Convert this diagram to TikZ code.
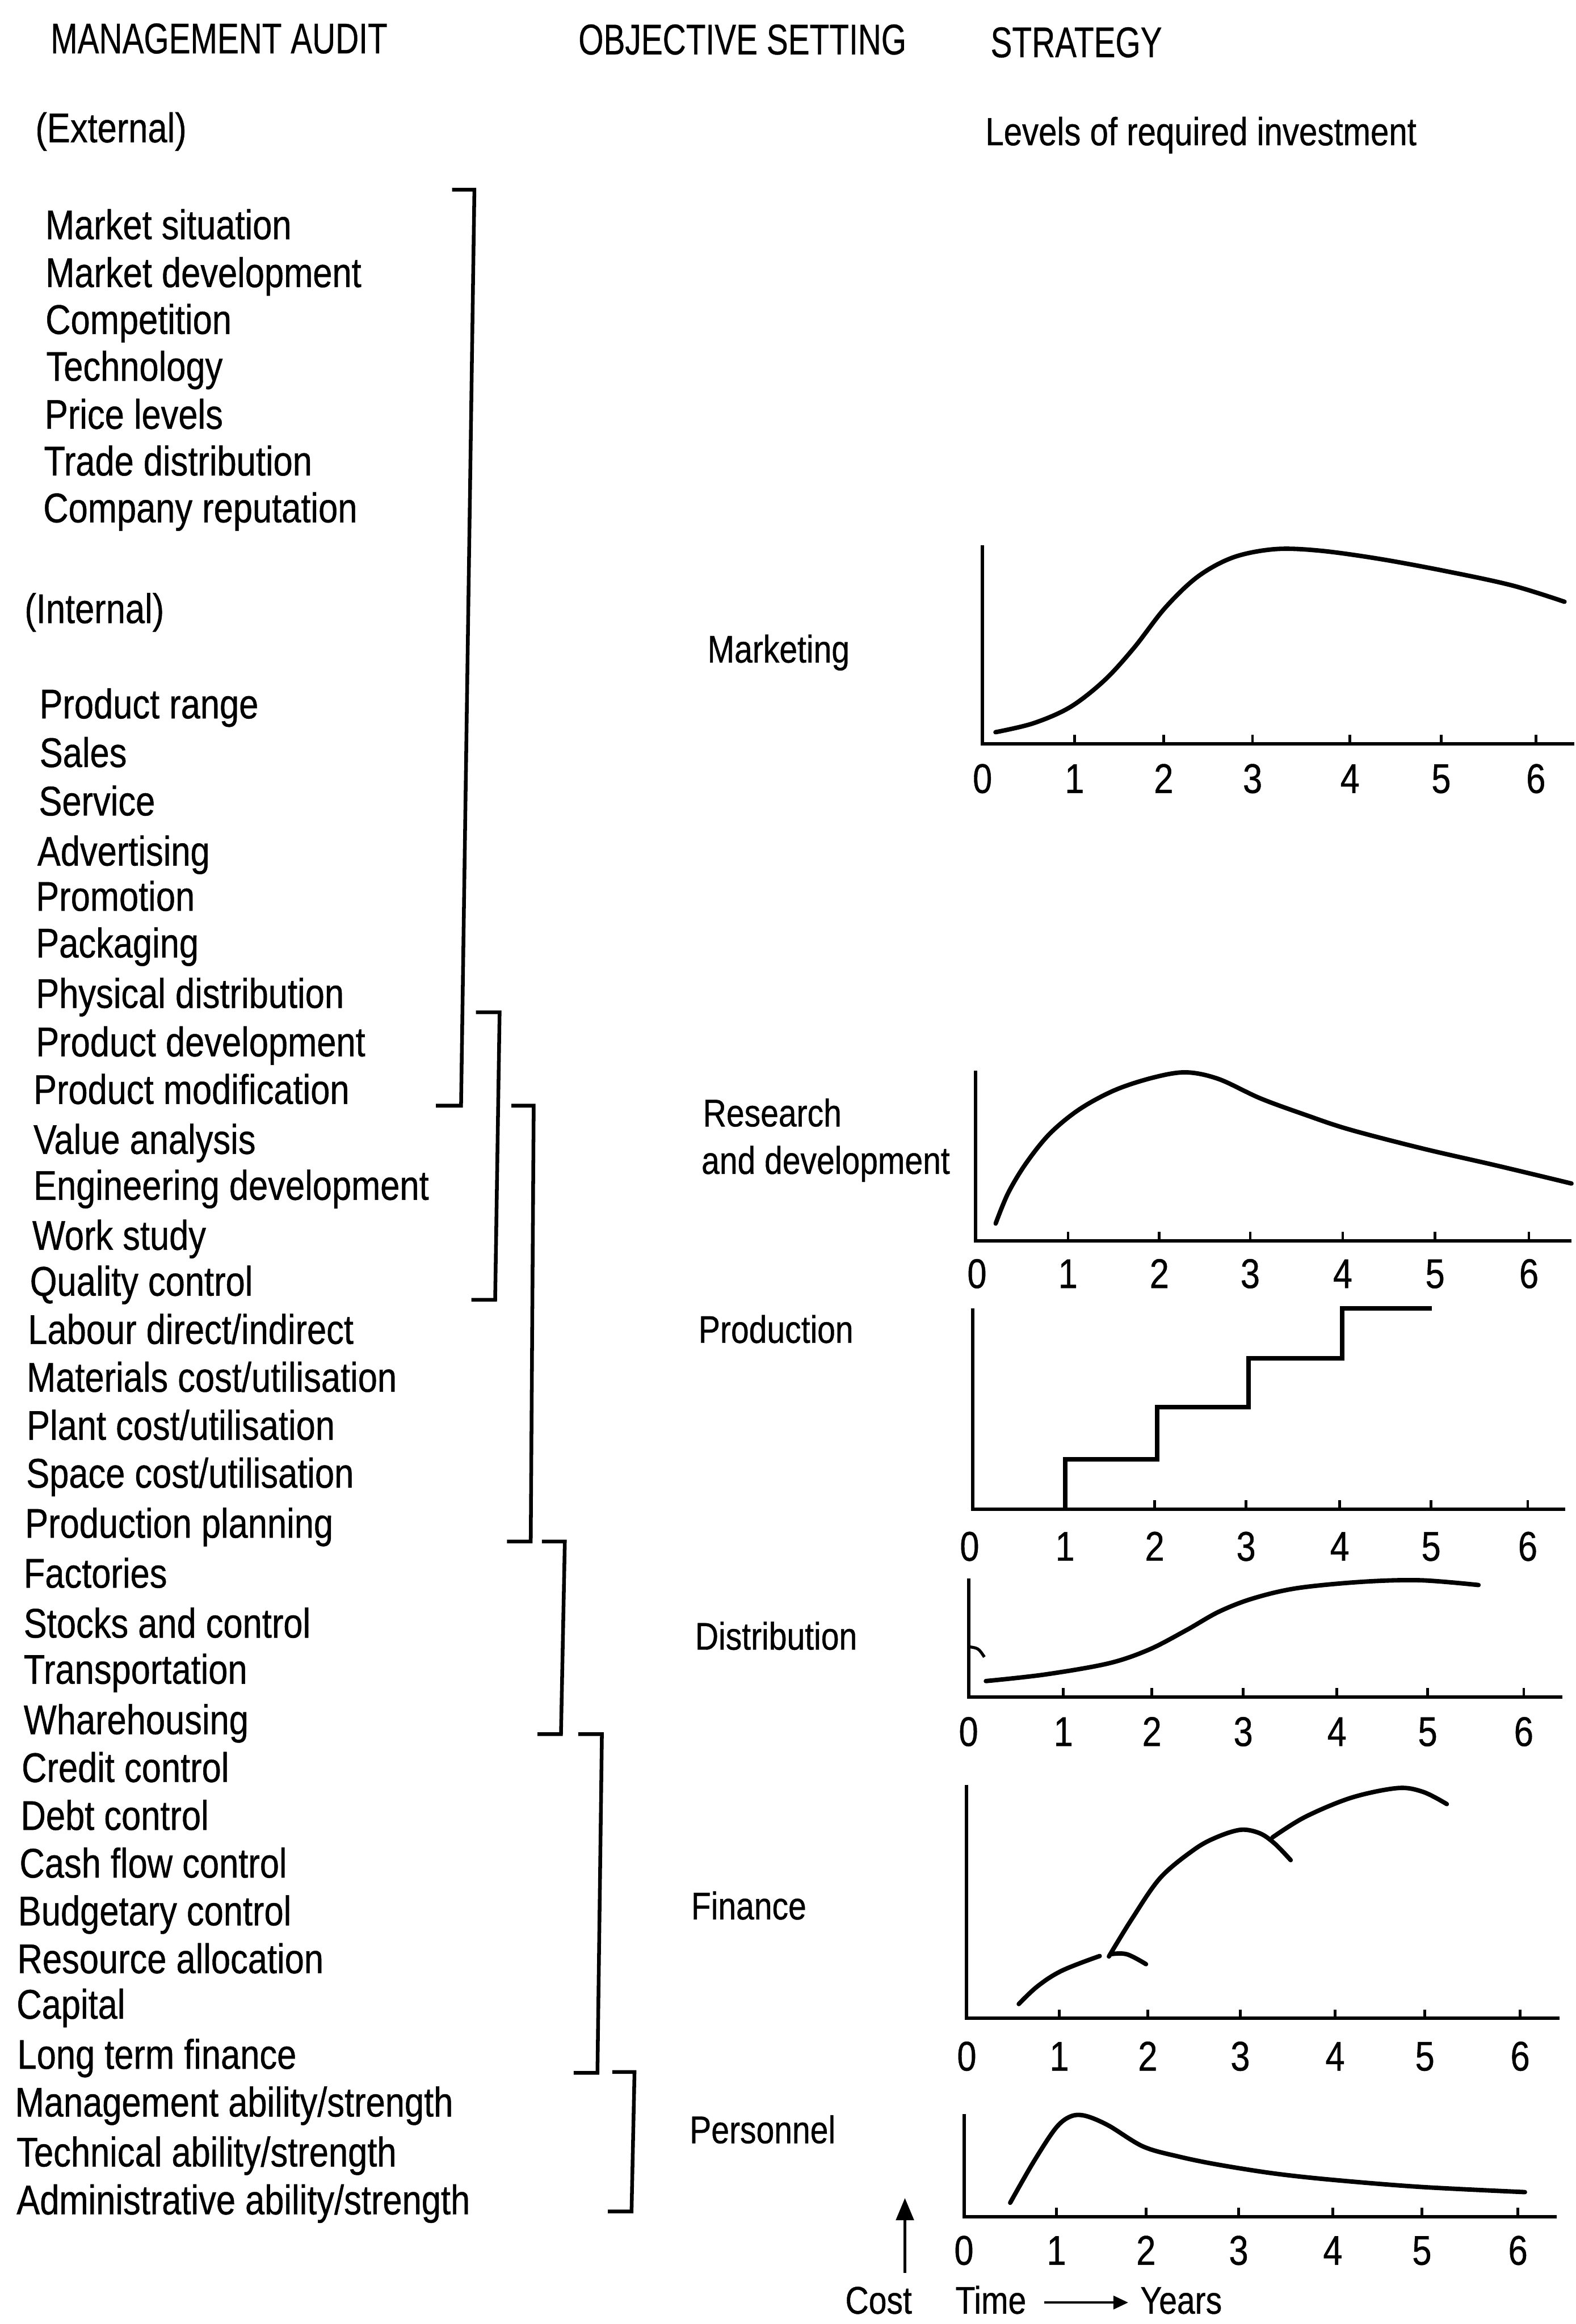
\documentclass[tikz,border=0pt]{standalone}
\usepackage{fontspec}
\usetikzlibrary{arrows.meta,calc}
\setmainfont{Liberation Sans}
\newfontfamily\condfont[FakeStretch=0.84,FakeBold=0.6]{Liberation Sans}
\newfontfamily\headcond[FakeStretch=0.75,FakeBold=0.4]{Liberation Sans}
\newcommand\itemfont{\condfont\fontsize{28}{30}\selectfont}
\newcommand\labfont{\condfont\fontsize{26}{28}\selectfont}
\newcommand\headfont{\headcond\fontsize{29}{31}\selectfont}
\begin{document}
\begin{tikzpicture}[x=1pt,y=-1pt,
  item/.style={anchor=base west, inner sep=0pt, font=\itemfont},
  lab/.style={anchor=base west, inner sep=0pt, font=\labfont},
  head/.style={anchor=base west, inner sep=0pt, font=\headfont},
  num/.style={anchor=base, inner sep=0pt, font=\itemfont},
  axisline/.style={line width=2.3pt, line join=miter},
  tickmark/.style={line width=1.8pt},
  curve/.style={line width=3pt, line cap=round, line join=round},
  bracket/.style={line width=2.5pt, line join=miter}]

\useasboundingbox (0,0) rectangle (1063,1568);
\fill[white] (0,0) rectangle (1063,1568);

% ---------- column headings ----------
\node[head] (hAudit) at (34,36) {MANAGEMENT AUDIT};
\node[head] (hObj) at (390,36.7) {OBJECTIVE SETTING};
\node[head] (hStrat) at (668,38.6) {STRATEGY};
\node[item] (hExt) at (23.7,96) {(External)};
\node[item, font=\condfont\fontsize{26.5}{28}\selectfont] (hLevels) at (664.5,98) {Levels of required investment};
\node[item] (hInt) at (16.4,420.4) {(Internal)};

% ---------- audit items ----------
\node[item] (a1) at (30.4,161.4) {Market situation};
\node[item] (a2) at (30.5,193.7) {Market development};
\node[item] (a3) at (30.5,225.3) {Competition};
\node[item] (a4) at (31,256.9) {Technology};
\node[item] (a5) at (30,289.3) {Price levels};
\node[item] (a6) at (29.5,320.8) {Trade distribution};
\node[item] (a7) at (29,352.4) {Company reputation};
\node[item] (a8) at (26.4,484.7) {Product range};
\node[item] (a9) at (26.5,517.5) {Sales};
\node[item] (a10) at (26,550.2) {Service};
\node[item] (a11) at (25,584) {Advertising};
\node[item] (a12) at (24,614.5) {Promotion};
\node[item] (a13) at (24,646) {Packaging};
\node[item] (a14) at (24,680) {Physical distribution};
\node[item] (a15) at (24,712.7) {Product development};
\node[item] (a16) at (22.4,744.8) {Product modification};
\node[item] (a17) at (22.4,778.5) {Value analysis};
\node[item] (a18) at (22.4,809.5) {Engineering development};
\node[item] (a19) at (21.6,843.2) {Work study};
\node[item] (a20) at (20,874.2) {Quality control};
\node[item] (a21) at (18.7,906.7) {Labour direct/indirect};
\node[item] (a22) at (17.8,939) {Materials cost/utilisation};
\node[item] (a23) at (17.8,971.4) {Plant cost/utilisation};
\node[item] (a24) at (17.5,1003.7) {Space cost/utilisation};
\node[item] (a25) at (16.7,1037.5) {Production planning};
\node[item] (a26) at (15.8,1071.2) {Factories};
\node[item] (a27) at (15.8,1104.9) {Stocks and control};
\node[item] (a28) at (15.8,1136) {Transportation};
\node[item] (a29) at (15.8,1170) {Wharehousing};
\node[item] (a30) at (14.4,1202.3) {Credit control};
\node[item] (a31) at (13.8,1234.6) {Debt control};
\node[item] (a32) at (13,1266.8) {Cash flow control};
\node[item] (a33) at (12,1299) {Budgetary control};
\node[item] (a34) at (11.5,1331.3) {Resource allocation};
\node[item] (a35) at (11,1362) {Capital};
\node[item] (a36) at (11.5,1395.8) {Long term finance};
\node[item] (a37) at (10,1428) {Management ability/strength};
\node[item] (a38) at (11,1461.7) {Technical ability/strength};
\node[item] (a39) at (11,1494) {Administrative ability/strength};

% ---------- grouping brackets ----------
\draw[bracket] (305,128) -- (320,128) -- (311,746) -- (294,746);
\draw[bracket] (321,683) -- (337,683) -- (334,877) -- (318,877);
\draw[bracket] (345,746) -- (360,746) -- (358,1040) -- (342,1040);
\draw[bracket] (365.5,1040) -- (381,1040) -- (378.4,1170) -- (362.6,1170);
\draw[bracket] (390,1170) -- (406,1170) -- (403,1398.5) -- (387,1398.5);
\draw[bracket] (413,1398) -- (428,1398) -- (426,1492) -- (410,1492);

% ---------- objectives ----------
\node[lab] (oMkt) at (477,447) {Marketing};
\node[lab] (oRes) at (474,760) {Research};
\node[lab] (oRes2) at (473,792) {and development};
\node[lab] (oProd) at (471,906) {Production};
\node[lab] (oDist) at (468.7,1113) {Distribution};
\node[lab] (oFin) at (466,1295) {Finance};
\node[lab] (oPers) at (465,1446) {Personnel};

% ---------- marketing ----------
\draw[axisline] (662.7,368) -- (662.7,501.7) -- (1062,501.7);
\foreach \t in {724.8,784.9,844.9,910.6,972.1,1036}
  \draw[tickmark] (\t,501.7) -- ++(0,-6);
\foreach \t [count=\i from 0] in {662.7,724.8,784.9,844.9,910.6,972.1,1036}
  \node[num] (mk\i) at (\t,535) {\i};
\draw[curve] plot[smooth, tension=0.55] coordinates {(671.5,494) (697,488)
  (722,477) (745,459) (765,437) (786,410) (808,389) (832,376) (860,370.5)
  (890,371.5) (930,377) (976,385.5) (1020,395) (1055.3,406)};

% ---------- research and development ----------
\draw[axisline] (658,722.5) -- (658,837.1) -- (1060,837.1);
\foreach \t in {720.4,782,843.3,905.7,968,1031.3}
  \draw[tickmark] (\t,837.1) -- ++(0,-6);
\foreach \t [count=\i from 0] in {659,720.4,782,843.3,905.7,968,1031.3}
  \node[num] (rd\i) at (\t,869) {\i};
\draw[curve] plot[smooth, tension=0.55] coordinates {(671.6,825.5) (680,805)
  (692,785) (708,765) (728,748.5) (752,735.5) (778,727) (800,723.5) (822,728)
  (850,741) (880,752) (910,762) (960,775) (1010,786.5) (1060,798.5)};

% ---------- production ----------
\draw[axisline] (656,882.7) -- (656,1018.3) -- (1055.8,1018.3);
\foreach \t in {778.9,840.5,903.7,965.3,1030.5}
  \draw[tickmark] (\t,1018.3) -- ++(0,-6);
\foreach \t [count=\i from 0] in {654,718.4,778.9,840.5,903.7,965.3,1030.5}
  \node[num] (pr\i) at (\t,1053) {\i};
\draw[curve, line cap=butt, line join=miter] (718.4,1018.3) -- (718.4,984.5)
  -- (780.5,984.5) -- (780.5,949.4) -- (842.1,949.4) -- (842.1,916.6)
  -- (905.3,916.6) -- (905.3,882.7) -- (965.7,882.7);

% ---------- distribution ----------
\draw[axisline] (653.3,1065) -- (653.3,1145) -- (1053.9,1145);
\foreach \t in {717.3,777,838.6,901.8,963,1027.8}
  \draw[tickmark] (\t,1145) -- ++(0,-6);
\foreach \t [count=\i from 0] in {653.3,717.3,777,838.6,901.8,963,1027.8}
  \node[num] (di\i) at (\t,1178) {\i};
\draw[line width=2pt] (653.3,1111) .. controls (660,1112) .. (664,1118);
\draw[curve] plot[smooth, tension=0.55] coordinates {(665,1134.2) (704.7,1129.8)
  (747.6,1122.3) (775,1113) (800,1100) (822,1087.5) (845,1078.5) (875,1071.5)
  (919.3,1067.2) (958.3,1066.2) (997.3,1069.4)};

% ---------- finance ----------
\draw[axisline] (652.1,1204.3) -- (652.1,1361.8) -- (1052,1361.8);
\foreach \t in {714.5,774.2,836.6,900.6,961.1,1025.4}
  \draw[tickmark] (\t,1361.8) -- ++(0,-6);
\foreach \t [count=\i from 0] in {652.1,714.5,774.2,836.6,900.6,961.1,1025.4}
  \node[num] (fi\i) at (\t,1397) {\i};
\draw[curve] plot[smooth, tension=0.6] coordinates {(687.2,1352.1) (700,1340)
  (716.5,1329.5) (741.8,1319.7)};
\draw[curve] plot[smooth, tension=0.6] coordinates {(749,1318.5) (760,1318.5)
  (773,1325.2)};
\draw[curve] plot[smooth, tension=0.55] coordinates {(748,1320) (763.3,1295)
  (782.8,1266.8) (806.2,1247.4) (822,1239) (837.4,1234.5) (850,1237)
  (860,1244) (870.6,1255)};
\draw[curve] plot[smooth, tension=0.55] coordinates {(858.3,1239.7) (880.3,1225.9)
  (911.5,1212.9) (942.7,1206.4) (960,1209) (975.9,1217.2)};

% ---------- personnel ----------
\draw[axisline] (650.2,1426.3) -- (650.2,1495.6) -- (1050,1495.6);
\foreach \t in {712.6,773,835.5,899,959.1,1023.9}
  \draw[tickmark] (\t,1495.6) -- ++(0,-6);
\foreach \t [count=\i from 0] in {650.2,712.6,773,835.5,899,959.1,1023.9}
  \node[num] (pe\i) at (\t,1528) {\i};
\draw[curve] plot[smooth, tension=0.55] coordinates {(681.4,1486.2) (697,1458.9)
  (712,1436) (722,1428) (732,1427.5) (747.6,1434) (771,1448.2) (795,1455)
  (821.8,1460.5) (860,1466.5) (899.8,1470.8) (958.3,1475.5) (1028.6,1479)};

% ---------- axis legend ----------
\node[lab] (cost) at (570,1561) {Cost};
\node[lab] (time) at (644.3,1561) {Time};
\node[lab] (years) at (769,1561) {Years};
\coordinate (costTop) at (610.4,1483);
\coordinate (costFoot) at (610.4,1533.5);
\draw[line width=1.8pt, -{Triangle[length=15pt,width=12pt]}] (costFoot) -- (costTop);
\draw[line width=1.6pt, -{Triangle[length=10pt,width=9pt]}]
  ($(time.base east)+(12,-7.5)$) -- ($(years.base west)+(-8,-7.5)$);

\end{tikzpicture}
\end{document}
